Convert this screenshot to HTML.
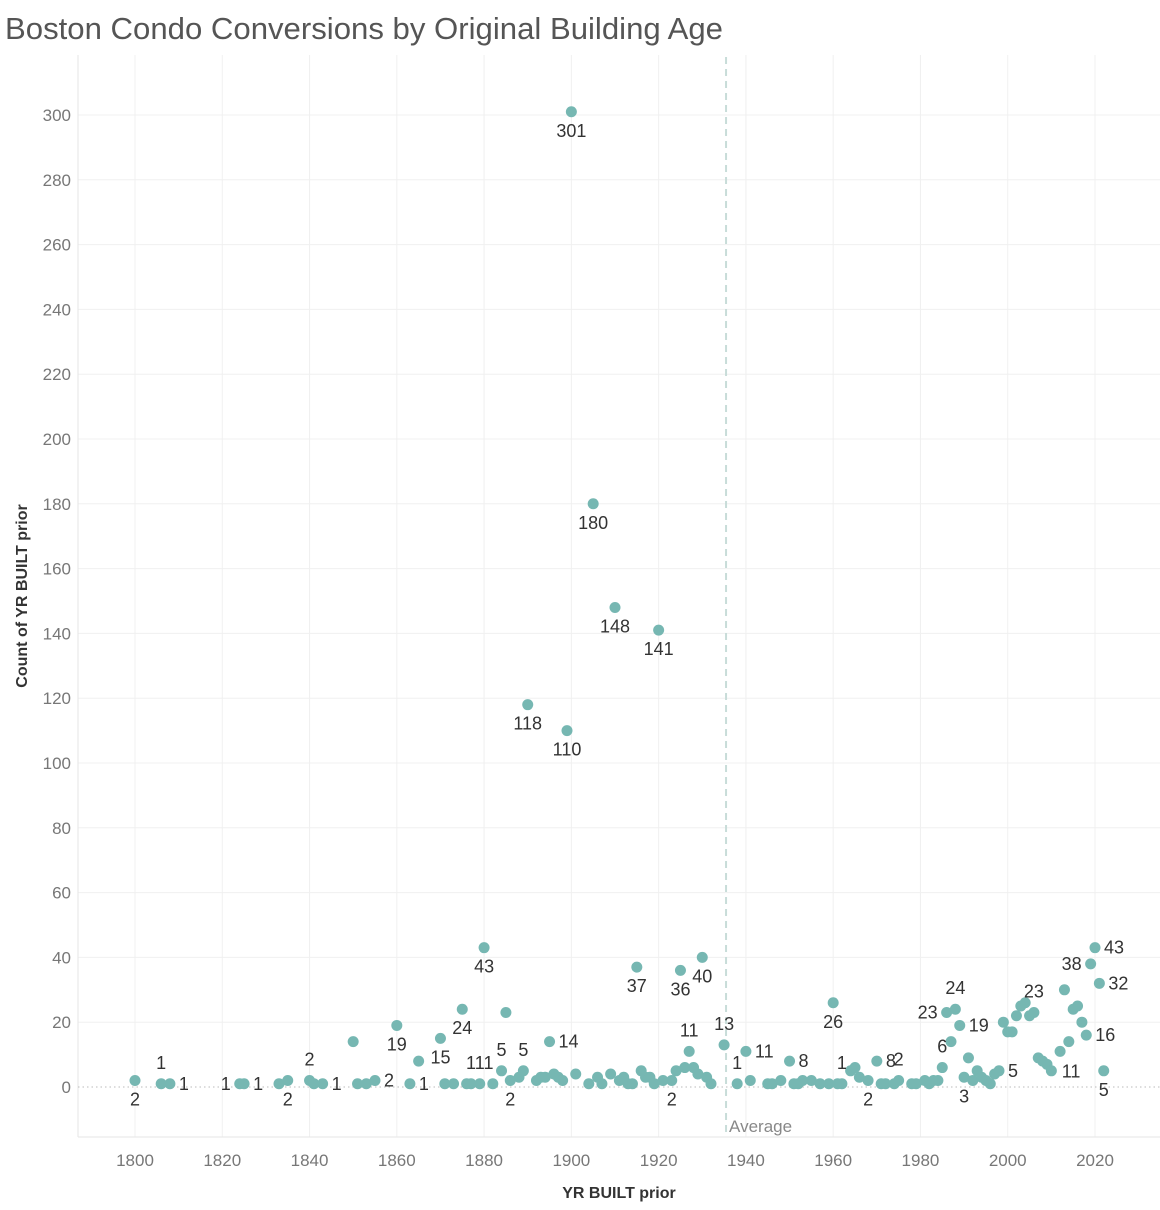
<!DOCTYPE html>
<html><head><meta charset="utf-8"><style>
body{margin:0;background:#fff;font-family:"Liberation Sans",sans-serif}
svg{display:block}
</style></head><body>
<svg id="chart" width="1160" height="1210" xmlns="http://www.w3.org/2000/svg" font-family="Liberation Sans, sans-serif">
<text x="5" y="39" font-size="31" fill="#555" font-weight="300" textLength="718" lengthAdjust="spacingAndGlyphs">Boston Condo Conversions by Original Building Age</text>
<text transform="translate(27,596) rotate(-90)" text-anchor="middle" font-size="16" font-weight="bold" fill="#333">Count of YR BUILT prior</text>
<text x="619" y="1198" text-anchor="middle" font-size="16" font-weight="bold" fill="#333">YR BUILT prior</text>
<g id="grid"></g><g id="ticks"></g><g id="marks"></g><g id="lbls"></g>
</svg>
<script>
const years=[1800,1806,1808,1824,1825,1833,1835,1840,1841,1843,1850,1851,1853,1855,1860,1863,1865,1870,1871,1873,1875,1876,1877,1879,1880,1882,1884,1885,1886,1888,1889,1890,1892,1893,1894,1895,1896,1897,1898,1899,1900,1901,1904,1905,1906,1907,1909,1910,1911,1912,1913,1914,1915,1916,1917,1918,1919,1920,1921,1923,1924,1925,1926,1927,1928,1929,1930,1931,1932,1935,1938,1940,1941,1945,1946,1948,1950,1951,1952,1953,1955,1957,1959,1960,1961,1962,1964,1965,1966,1968,1970,1971,1972,1974,1975,1978,1979,1981,1982,1983,1984,1985,1986,1987,1988,1989,1990,1991,1992,1993,1994,1995,1996,1997,1998,1999,2000,2001,2002,2003,2004,2005,2006,2007,2008,2009,2010,2012,2013,2014,2015,2016,2017,2018,2019,2020,2021,2022];
const counts=[2,1,1,1,1,1,2,2,1,1,14,1,1,2,19,1,8,15,1,1,24,1,1,1,43,1,5,23,2,3,5,118,2,3,3,14,4,3,2,110,301,4,1,180,3,1,4,148,2,3,1,1,37,5,3,3,1,141,2,2,5,36,6,11,6,4,40,3,1,13,1,11,2,1,1,2,8,1,1,2,2,1,1,26,1,1,5,6,3,2,8,1,1,1,2,1,1,2,1,2,2,6,23,14,24,19,3,9,2,5,3,2,1,4,5,20,17,17,22,25,26,22,23,9,8,7,5,11,30,14,24,25,20,16,38,43,32,5];
const labelYears=[1800,1806,1808,1824,1825,1835,1840,1843,1855,1860,1863,1870,1875,1877,1879,1881,1880,1884,1886,1889,1895,1899,1890,1900,1905,1910,1920,1915,1923,1925,1930,1927,1935,1938,1940,1950,1960,1962,1968,1970,1975,1985,1986,1988,1989,1990,1998,2006,2012,2019,2020,2021,2018,2022];
const labelDirs=['b','t','r','l','r','b','t','r','r','b','r','b','b','t','t','t','b','t','b','t','r','b','b','b','b','b','b','b','b','b','b','t','t','t','r','r','b','t','b','r','t','t','l','t','r','b','r','t','br','l','r','r','r','b'];
const yTicks=[0,20,40,60,80,100,120,140,160,180,200,220,240,260,280,300];
const xTicks=[1800,1820,1840,1860,1880,1900,1920,1940,1960,1980,2000,2020];
const avgYear=1935.45;
const NS='http://www.w3.org/2000/svg';
const X=v=>135+(v-1800)*960/220;
const Y=v=>1087-v*972/300;
function mk(tag,attrs,parent){const e=document.createElementNS(NS,tag);for(const k in attrs)e.setAttribute(k,attrs[k]);parent.appendChild(e);return e;}
const grid=document.getElementById('grid'),ticks=document.getElementById('ticks'),marks=document.getElementById('marks'),lbls=document.getElementById('lbls');
yTicks.forEach(t=>{
  if(t!==0){const l=mk('line',{x1:78,x2:1160,y1:Y(t),y2:Y(t),stroke:'#f0f0f0','stroke-width':1},grid);
  
  }
  const tx=mk('text',{x:71,y:Y(t)+6,'text-anchor':'end','font-size':17,fill:'#777'},ticks);tx.textContent=t;
  
  
});
xTicks.forEach(t=>{
  const l=mk('line',{x1:X(t),x2:X(t),y1:55,y2:1137,stroke:'#f0f0f0','stroke-width':1},grid);
  
  
  const tx=mk('text',{x:X(t),y:1166,'text-anchor':'middle','font-size':17,fill:'#777'},ticks);tx.textContent=t;
  
  
});
const ax=mk('line',{x1:78,x2:78,y1:55,y2:1137,stroke:'#e6e6e6'},grid);


const ax2=mk('line',{x1:78,x2:1160,y1:1137,y2:1137,stroke:'#e6e6e6'},grid);


const zl=mk('line',{x1:78,x2:1160,y1:Y(0),y2:Y(0),stroke:'#bbb','stroke-dasharray':'1.5,3'},grid);


const av=mk('line',{x1:X(avgYear),x2:X(avgYear),y1:57,y2:1137,stroke:'#c8dcd9','stroke-width':2,'stroke-dasharray':'7,5'},grid);


const at=mk('text',{x:X(avgYear)+3,y:1132,'font-size':17,fill:'#888'},grid);at.textContent='Average';


years.forEach((yr,i)=>{
  const c=mk('circle',{cx:X(yr),cy:Y(counts[i]),r:5.5,fill:'#76b7b2'},marks);
  
  
});
labelYears.forEach((yr,i)=>{
  let idx=years.indexOf(yr);let val=idx>=0?counts[idx]:1;
  let cx=X(yr),cy=Y(idx>=0?val:1),d=labelDirs[i];
  let x=cx,y=cy,anc='middle';
  if(d==='b'){y=cy+25;}else if(d==='t'){y=cy-15;}else if(d==='r'){x=cx+9;y=cy+6;anc='start';}else if(d==='br'){x=cx+11;y=cy+26;}else{x=cx-9;y=cy+6;anc='end';}
  const t=mk('text',{x:x,y:y,'text-anchor':anc,'font-size':18,fill:'#333'},lbls);t.textContent=val;
  
  
});
</script>
</body></html>
